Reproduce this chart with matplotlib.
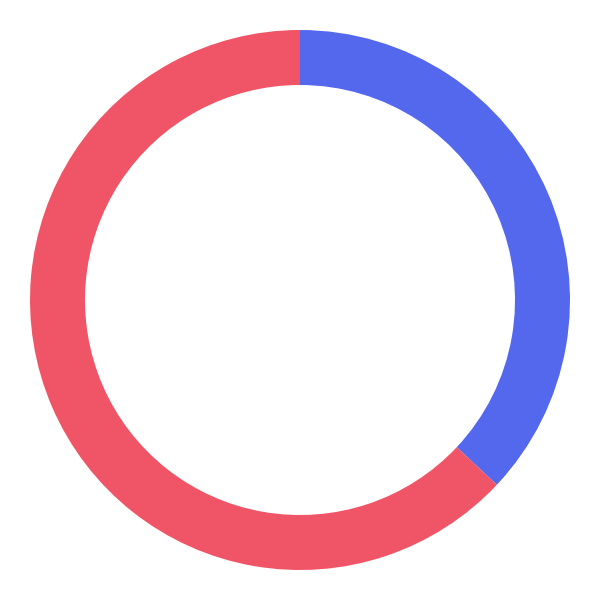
import matplotlib.pyplot as plt

labels = ['A', 'B']
values = [37, 63]
colors = ['#5468EE', '#EF5567']

fig = plt.figure(figsize=(6, 6), dpi=100)
ax = fig.add_axes([0, 0, 1, 1])
ax.pie(values, colors=colors, startangle=90, counterclock=False,
       radius=1.0, wedgeprops=dict(width=55 / 270, linewidth=0))
lim = 300 / 270
ax.set_xlim(-lim, lim)
ax.set_ylim(-lim, lim)
ax.set_aspect('equal')
ax.axis('off')
fig.savefig('out.png', dpi=100)
